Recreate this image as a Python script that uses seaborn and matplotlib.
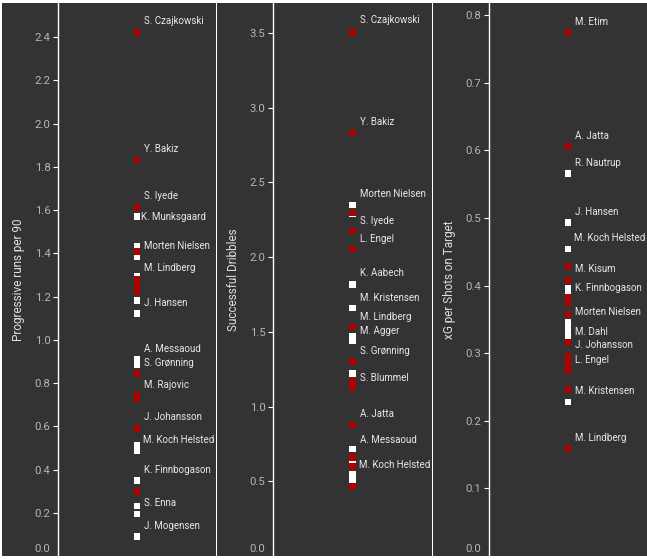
import matplotlib
matplotlib.use("Agg")
import matplotlib.pyplot as plt
from matplotlib.patches import Rectangle
import seaborn as sns
import pandas as pd

# ---------------- data ----------------
prog_runs_red = [2.423, 1.831, 1.613, 1.408, 1.279, 1.252, 1.224, 0.844, 0.741, 0.729, 0.589, 0.298]
prog_runs_white = [1.571, 1.431, 1.383, 1.295, 1.183, 1.123, 0.909, 0.884, 0.514, 0.488, 0.349, 0.232, 0.195, 0.090]
prog_names = ["S. Czajkowski", "Y. Bakiz", "S. Iyede", "K. Munksgaard", "Morten Nielsen", "M. Lindberg",
              "J. Hansen", "A. Messaoud", "S. Grønning", "M. Rajovic", "J. Johansson", "M. Koch Helsted",
              "K. Finnbogason", "S. Enna", "J. Mogensen"]
prog_label_y = [2.480, 1.888, 1.670, 1.573, 1.439, 1.337, 1.179, 0.966, 0.899, 0.799, 0.648, 0.545,
                0.406, 0.252, 0.147]

dribbles_red = [3.503, 2.83, 2.295, 2.175, 2.054, 1.532, 1.302, 1.171, 1.127, 0.877, 0.660, 0.601, 0.464]
dribbles_white = [2.348, 2.288, 1.817, 1.659, 1.47, 1.443, 1.219, 0.716, 0.617, 0.545, 0.525, 0.478]
drib_names = ["S. Czajkowski", "Y. Bakiz", "Morten Nielsen", "S. Iyede", "L. Engel", "K. Aabech",
              "M. Kristensen", "M. Lindberg", "M. Agger", "S. Grønning", "S. Blummel", "A. Jatta",
              "A. Messaoud", "M. Koch Helsted"]
drib_label_y = [3.598, 2.912, 2.429, 2.250, 2.132, 1.904, 1.737, 1.610, 1.514, 1.381, 1.202, 0.957,
                0.785, 0.618]

xg_red = [0.774, 0.606, 0.428, 0.408, 0.382, 0.375, 0.357, 0.316, 0.296, 0.288, 0.279, 0.274, 0.246, 0.159]
xg_white = [0.566, 0.493, 0.454, 0.396, 0.392, 0.345, 0.336, 0.326, 0.228]
xg_names = ["M. Etim", "A. Jatta", "R. Nautrup", "J. Hansen", "M. Koch Helsted", "M. Kisum",
            "K. Finnbogason", "Morten Nielsen", "M. Dahl", "J. Johansson", "L. Engel", "M. Kristensen",
            "M. Lindberg"]
xg_label_y = [0.7927, 0.624, 0.5835, 0.5108, 0.472, 0.427, 0.399, 0.363, 0.334, 0.314, 0.292, 0.2466,
              0.1768]

titles = ["Progressive runs per 90", "Successful Dribbles", "xG per Shots on Target"]
ticks = [[0.0, 0.2, 0.4, 0.6, 0.8, 1.0, 1.2, 1.4, 1.6, 1.8, 2.0, 2.2, 2.4],
         [0.0, 0.5, 1.0, 1.5, 2.0, 2.5, 3.0, 3.5],
         [0.0, 0.1, 0.2, 0.3, 0.4, 0.5, 0.6, 0.7, 0.8]]

# ---------------- style ----------------
BG = "#333333"
RED = "#b00000"
sns.set_theme(style="dark", rc={"axes.facecolor": BG})
plt.rcParams["font.family"] = ["Roboto", "DejaVu Sans"]
LABEL_FAMILY = ["Liberation Sans Narrow", "Roboto", "DejaVu Sans"]

W, H = 647, 559
fig = plt.figure(figsize=(W / 100, H / 100), dpi=100, facecolor="white")

bg_spans = [(2, 216), (217.5, 432), (433.5, 647)]
ax_spans = [(58.3, 216), (273.3, 432), (489.3, 647)]
TOP, BOT = 3, 556
ylims = [2.558, 3.70, 0.818]

for x0, x1 in bg_spans:
    fig.patches.append(Rectangle((x0 / W, 1 - BOT / H), (x1 - x0) / W, (BOT - TOP) / H,
                                 transform=fig.transFigure, facecolor=BG, edgecolor="none", zorder=-10))

panels = [
    (prog_runs_white, prog_runs_red, prog_names, prog_label_y),
    (dribbles_white, dribbles_red, drib_names, drib_label_y),
    (xg_white, xg_red, xg_names, xg_label_y),
]
x_shift = {(0, "K. Munksgaard"): -3.5, (0, "M. Koch Helsted"): -0.7,
           (1, "M. Koch Helsted"): -0.7, (2, "M. Koch Helsted"): -1}

for i, (whites, reds, names, label_y) in enumerate(panels):
    l, r = ax_spans[i]
    ax = fig.add_axes([l / W, 1 - BOT / H, (r - l) / W, (BOT - TOP) / H])
    ax.set_zorder(1)
    ax.set_facecolor(BG)
    df = pd.DataFrame({
        "value": list(whites) + list(reds),
        "team": ["white"] * len(whites) + ["red"] * len(reds),
    })
    df["x"] = 0.0
    sns.scatterplot(data=df, x="x", y="value", hue="team", palette={"white": "white", "red": RED},
                    marker="s", s=23, linewidth=0, legend=False, ax=ax, zorder=3)
    ax.set_xlim(-1, 1)
    ax.set_ylim(0, ylims[i])
    ax.set_xticks([])
    ax.set_xlabel("")
    ax.set_ylabel("")
    labels = [f"{t:.1f}" for t in ticks[i]]
    labels[0] = ""
    ax.set_yticks(ticks[i], labels)
    ax.tick_params(axis="y", length=3.6, width=0.8, color="white", labelcolor="#b5b5b5",
                   labelsize=8.2, pad=2, left=True)
    ax.grid(False)
    for side in ["top", "right", "bottom"]:
        ax.spines[side].set_visible(False)
    ax.spines["left"].set_color("white")
    ax.spines["left"].set_linewidth(1.0)
    ax.annotate("0.0", xy=(0, 0), xycoords=("axes fraction", "data"), xytext=(-8, 8),
                textcoords="offset pixels", ha="right", va="center_baseline",
                color="#b5b5b5", fontsize=8.2, annotation_clip=False)
    for name, y in zip(names, label_y):
        dx = x_shift.get((i, name), 0)
        ax.annotate(name, xy=(0, y), xycoords="data", xytext=(7 + dx, -1.5), textcoords="offset pixels",
                    ha="left", va="center", color="#e8e8e8", fontsize=7.0, family=LABEL_FAMILY,
                    zorder=4, annotation_clip=False)
    fig.text((l - 40) / W, 1 - ((TOP + BOT) / 2) / H, titles[i], rotation=90, ha="center",
             va="center", color="#e0e0e0", fontsize=8.5, zorder=5)

fig.savefig("out.png", dpi=100, facecolor="white")
